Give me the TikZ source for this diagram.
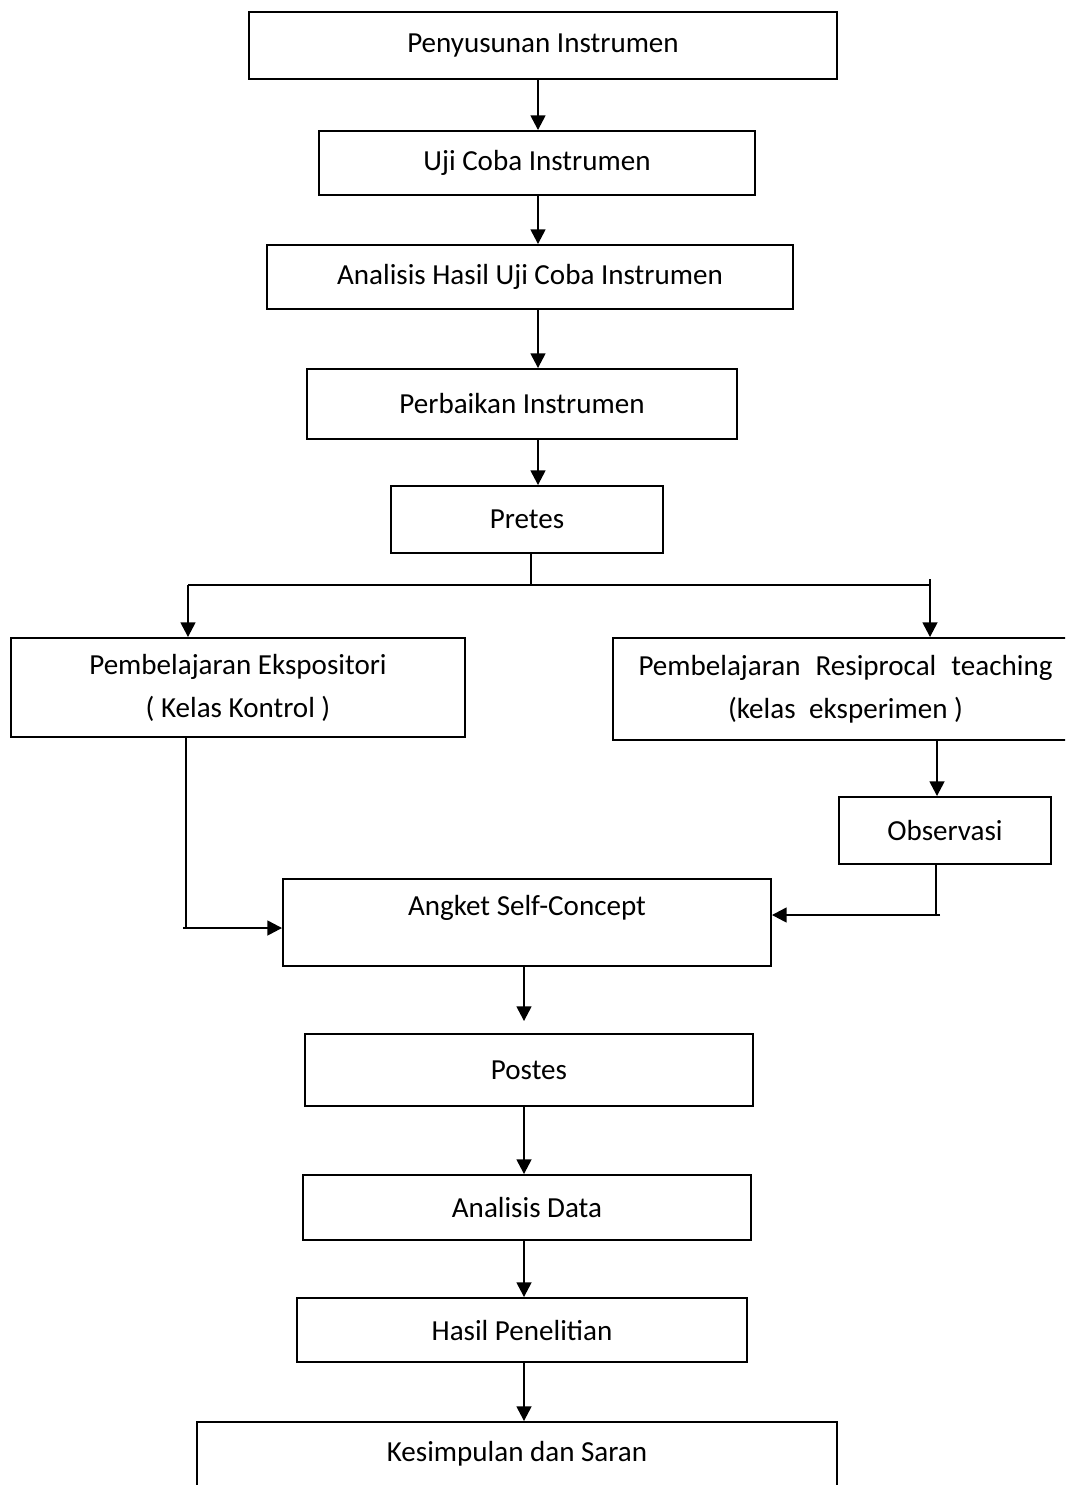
\documentclass[tikz,border=0pt]{standalone}
\usepackage{fontspec}
\setmainfont{Carlito}
\usetikzlibrary{arrows.meta}
\newlength{\px}\setlength{\px}{0.75pt}
\tikzset{
  box/.style={draw, line width=1.4pt, inner sep=0pt, align=center,
    font=\fontsize{21.8}{32.3}\selectfont},
  boxsize/.style 2 args={minimum width=#1\px, minimum height=#2\px},
  flow/.style={line width=1.8pt, -{Triangle[length=11pt,width=11pt]}},
  link/.style={line width=1.6pt},
}
\begin{document}
\begin{tikzpicture}[x=0.75pt,y=-0.75pt]
\useasboundingbox (0,0) rectangle (1065,1485);
\clip (0,0) rectangle (1065,1485);
% boxes
\node[box, boxsize={588}{67}] (susun) at (543,45.5) {Penyusunan Instrumen};
\node[box, boxsize={436}{64}] (uji) at (537,163) {Uji Coba Instrumen};
\node[box, boxsize={526}{64}] (anuji) at (530,277) {Analisis Hasil Uji Coba Instrumen};
\node[box, boxsize={430}{70}] (baik) at (522,404) {Perbaikan Instrumen};
\node[box, boxsize={272}{67}] (pretes) at (527,519.5) {Pretes};
\node[box, boxsize={454}{99}] (ekspo) at (238,687.5) {Pembelajaran Ekspositori\\( Kelas Kontrol )};
\node[box, boxsize={465}{102}] (resip) at (845.5,689)
  {Pembelajaran\hspace{0.52em}Resiprocal\hspace{0.52em}teaching\\(kelas\hspace{0.47em}eksperimen )};
\node[box, boxsize={212}{67}] (obs) at (945,830.5) {Observasi};
\node[box, boxsize={488}{87}, text depth=26pt] (angket) at (527,922.5) {Angket Self-Concept};
\node[box, boxsize={448}{72}] (postes) at (529,1070) {Postes};
\node[box, boxsize={448}{65}] (andata) at (527,1207.5) {Analisis Data};
\node[box, boxsize={450}{64}] (hasil) at (522,1330) {Hasil Penelitian};
\node[box, boxsize={640}{64}] (simpul) at (517,1454) {Kesimpulan dan Saran};
% upper column
\coordinate (colA) at (538,0);
\coordinate (colB) at (524,0);
\draw[flow] (susun.south -| colA) -- (uji.north -| colA);
\draw[flow] (uji.south -| colA) -- (anuji.north -| colA);
\draw[flow] (anuji.south -| colA) -- (baik.north -| colA);
\draw[flow] (baik.south -| colA) -- (pretes.north -| colA);
% split after pretes
\coordinate (split) at (531,585);
\coordinate (barL) at (188,585);
\coordinate (barR) at (930,585);
\coordinate (barRtop) at (930,579);
\draw[link] (pretes.south -| split) -- (split);
\draw[link] (barL) -- (barR);
\draw[flow] (barL) -- (barL |- ekspo.north);
\draw[flow] (barRtop) -- (barR |- resip.north);
% kelas kontrol
\coordinate (kontrol) at (186,928);
\coordinate (kontrolEnd) at (183,928);
\draw[link] (ekspo.south -| kontrol) -- (kontrol);
\draw[flow] (kontrolEnd) -- (kontrolEnd -| angket.west);
% kelas eksperimen
\coordinate (eks) at (937,0);
\coordinate (obsTurn) at (936,915);
\coordinate (obsEnd) at (940,915);
\draw[flow] (resip.south -| eks) -- (obs.north -| eks);
\draw[link] (obs.south -| obsTurn) -- (obsTurn);
\draw[flow] (obsEnd) -- (obsEnd -| angket.east);
% lower column
\draw[flow, shorten >=9pt] (angket.south -| colB) -- (postes.north -| colB);
\draw[flow] (postes.south -| colB) -- (andata.north -| colB);
\draw[flow] (andata.south -| colB) -- (hasil.north -| colB);
\draw[flow] (hasil.south -| colB) -- (simpul.north -| colB);
\end{tikzpicture}
\end{document}
